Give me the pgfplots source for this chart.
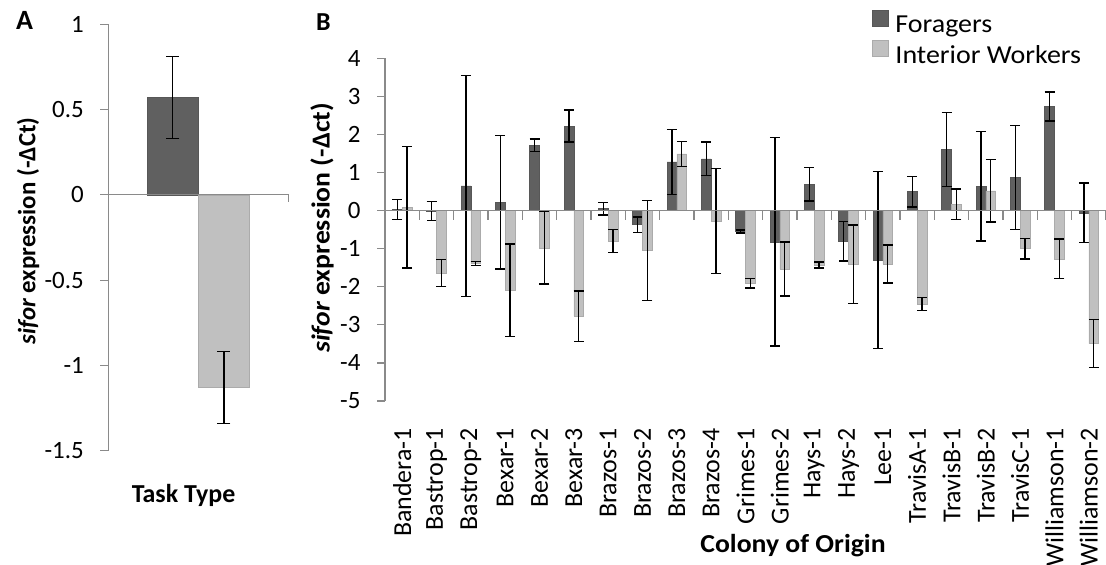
\documentclass[border=0pt]{standalone}
\usepackage{pgfplots}
\pgfplotsset{compat=1.18}
\usepackage{pgfplotstable}
\usepackage{fontspec}
\setmainfont{Carlito}
\newfontfamily\legendfont[FakeStretch=1.08]{Carlito}
\newfontfamily\titlefont[FakeStretch=1.07]{Carlito}

\definecolor{forager}{HTML}{606060}
\definecolor{foragerline}{HTML}{575757}
\definecolor{interior}{HTML}{C0C0C0}
\definecolor{interiorline}{HTML}{ABABAB}
\definecolor{axisgray}{HTML}{8A8A8A}

% Panel A: mean expression by task type
\pgfplotstableread{
x  f     fe    i      ie
0  0.57  0.24  -1.13  0.21
}\dataA

% Panel B: expression by colony (x = colony index)
\pgfplotstableread{
x  f      fe    i      ie
0   0.03  0.26   0.09  1.60
1  -0.01  0.25  -1.64  0.36
2   0.65  2.90  -1.39  0.05
3   0.22  1.75  -2.09  1.21
4   1.72  0.16  -0.98  0.95
5   2.22  0.42  -2.77  0.66
6   0.05  0.17  -0.80  0.30
7  -0.37  0.20  -1.05  1.31
8   1.28  0.85   1.49  0.33
9   1.36  0.44  -0.27  1.38
10 -0.55  0.04  -1.91  0.12
11 -0.82  2.74  -1.53  0.71
12  0.69  0.44  -1.43  0.08
13 -0.80  0.52  -1.41  1.03
14 -1.30  2.32  -1.40  0.50
15  0.50  0.40  -2.45  0.17
16  1.60  0.97   0.17  0.40
17  0.64  1.44   0.52  0.82
18  0.87  1.36  -1.00  0.27
19  2.73  0.38  -1.27  0.52
20 -0.06  0.78  -3.49  0.63
}\dataB

\pgfplotsset{
  panel/.style={
    scale only axis,
    anchor=south west,
    axis x line=bottom,
    axis y line=left,
    x axis line style={draw=none},
    y axis line style={draw=axisgray, line width=1.2bp, -},
    xtick style={draw=none},
    ytick style={draw=axisgray, line width=1.2bp},
    tick align=outside,
    major tick length=8bp,
    yticklabel style={font=\fontsize{25}{25}\selectfont},
    yticklabel shift=13bp,
    clip=false,
  },
  ebars/.style={
    error bars/.cd, y dir=both, y explicit,
    error bar style={black, line width=1.4bp},
    error mark options={rotate=90, black, line width=1.4bp, mark size=#1},
  },
  sqlegend/.style={
    legend image code/.code={
      \draw[##1] (0bp,-1bp) rectangle (16bp,15bp);
      \path (21bp,0bp);
    },
  },
}

\begin{document}
\begin{tikzpicture}
\path[use as bounding box] (0bp,0bp) rectangle (1106bp,565bp);

% ---------- Panel A ----------
\begin{axis}[panel,
  at={(108.3bp,114.3bp)},
  width=180bp, height=426.4bp,
  xmin=-0.5, xmax=0.5, ymin=-1.5, ymax=1,
  xtick=\empty,
  ytick={-1.5,-1,-0.5,0,0.5,1},
  yticklabels={-1.5,-1,-0.5,0,0.5,1},
]
% each bar sits at its own x so that its error bar is centred on it
\addplot[ybar, bar width=0.2833, bar shift=0,
  fill=forager, draw=foragerline, line width=0.6bp,
  ebars=6.5bp]
  table[x expr=\thisrow{x}-0.1417, y=f, y error=fe] {\dataA};
\addplot[ybar, bar width=0.2833, bar shift=0,
  fill=interior, draw=interiorline, line width=0.6bp,
  ebars=6.5bp]
  table[x expr=\thisrow{x}+0.1417, y=i, y error=ie] {\dataA};
\draw[axisgray, line width=1.2bp] (axis cs:-0.5,0) -- (axis cs:0.5,0) -- ++(0bp,-7bp);
\end{axis}

% ---------- Panel B ----------
\begin{axis}[panel,
  at={(385bp,164bp)},
  width=721bp, height=342.7bp,
  xmin=-0.5, xmax=20.5, ymin=-5, ymax=4,
  xtick={0,...,20},
  xticklabels={Bandera-1,Bastrop-1,Bastrop-2,Bexar-1,Bexar-2,Bexar-3,
    Brazos-1,Brazos-2,Brazos-3,Brazos-4,Grimes-1,Grimes-2,Hays-1,Hays-2,
    Lee-1,TravisA-1,TravisB-1,TravisB-2,TravisC-1,Williamson-1,Williamson-2},
  xticklabel style={rotate=90, anchor=east, inner sep=0pt,
    font=\fontsize{26}{26}\selectfont},
  xticklabel shift=19bp,
  ytick={-5,...,4},
  yticklabels={-5,-4,-3,-2,-1,0,1,2,3,4},
  legend style={at={(0.675,1.142)}, anchor=north west, draw=none, fill=none,
    font=\legendfont\fontsize{26}{30}\selectfont, inner sep=0pt,
    row sep=4bp,
    nodes={inner sep=2bp}},
  legend cell align=left,
]
\addplot[ybar, bar width=0.286, bar shift=0,
  fill=forager, draw=foragerline, line width=0.6bp,
  sqlegend, ebars=5bp]
  table[x expr=\thisrow{x}-0.143, y=f, y error=fe] {\dataB};
\addlegendentry{Foragers}
\addplot[ybar, bar width=0.286, bar shift=0,
  fill=interior, draw=interiorline, line width=0.6bp,
  sqlegend, ebars=5bp]
  table[x expr=\thisrow{x}+0.143, y=i, y error=ie] {\dataB};
\addlegendentry{Interior Workers}
\draw[axisgray, line width=1.2bp] (axis cs:-0.5,0) -- (axis cs:20.5,0);
\pgfplotsinvokeforeach{0.5,1.5,2.5,3.5,4.5,5.5,6.5,7.5,8.5,9.5,10.5,
  11.5,12.5,13.5,14.5,15.5,16.5,17.5,18.5,19.5,20.5}{
  \draw[axisgray, line width=1.2bp] (axis cs:#1,0) -- ++(0bp,-9bp);
}
\end{axis}

% ---------- titles and labels ----------
\node[anchor=base west, font=\bfseries\fontsize{28}{28}\selectfont, inner sep=0pt]
  at (16bp,535bp) {A};
\node[anchor=base west, font=\bfseries\fontsize{26}{26}\selectfont, inner sep=0pt]
  at (316bp,534bp) {B};
\node[rotate=90, font=\bfseries\fontsize{25}{25}\selectfont, inner sep=0pt]
  at (28bp,334bp) {\textit{sifor} expression (-ΔCt)};
\node[rotate=90, font=\titlefont\bfseries\fontsize{26}{26}\selectfont, inner sep=0pt]
  at (322bp,337bp) {\textit{sifor} expression (-Δct)};
\node[anchor=base, font=\bfseries\fontsize{26}{26}\selectfont, inner sep=0pt]
  at (183.5bp,62bp) {Task Type};
\node[anchor=base, font=\titlefont\bfseries\fontsize{26}{26}\selectfont, inner sep=0pt]
  at (793bp,13bp) {Colony of Origin};
\end{tikzpicture}
\end{document}
